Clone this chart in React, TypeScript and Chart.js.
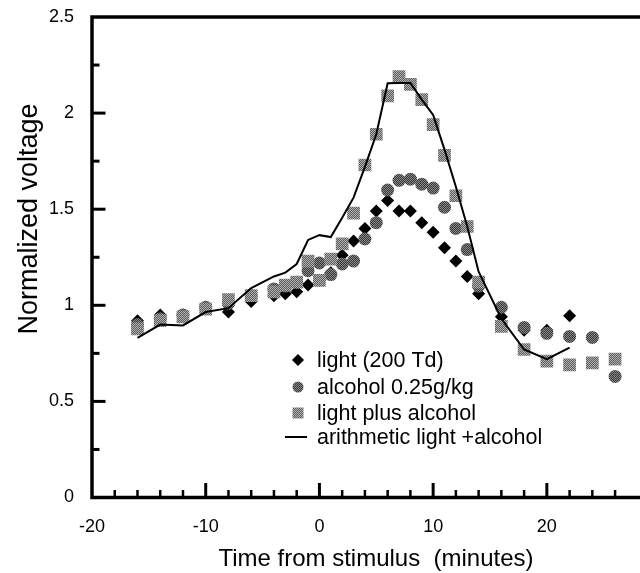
import React, { useEffect, useRef } from 'react';
import { Chart, registerables } from 'chart.js';

Chart.register(...registerables);

// ---- data ----
const lightTimes = [-16, -14, -12, -10, -8, -6, -4, -3, -2, -1, 0, 1, 2, 3, 4, 5, 6, 7, 8, 9, 10, 11, 12, 13, 14, 16, 18, 20, 22];
const lightValues = [0.92, 0.95, 0.95, 0.99, 0.965, 1.02, 1.05, 1.06, 1.07, 1.105, 1.13, 1.17, 1.26, 1.335, 1.40, 1.49, 1.545, 1.49, 1.49, 1.43, 1.38, 1.30, 1.23, 1.15, 1.06, 0.94, 0.87, 0.87, 0.945];

const alcoholTimes = [-16, -14, -12, -10, -8, -6, -4, -3, -2, -1, 0, 1, 2, 3, 4, 5, 6, 7, 8, 9, 10, 11, 12, 13, 14, 16, 18, 20, 22, 24, 26];
const alcoholValues = [0.90, 0.93, 0.95, 0.99, 1.01, 1.05, 1.085, 1.10, 1.12, 1.18, 1.22, 1.16, 1.215, 1.23, 1.345, 1.43, 1.60, 1.65, 1.656, 1.63, 1.61, 1.51, 1.40, 1.29, 1.10, 0.99, 0.885, 0.854, 0.838, 0.833, 0.63];

const comboTimes = [-16, -14, -12, -10, -8, -6, -4, -3, -2, -1, 0, 1, 2, 3, 4, 5, 6, 7, 8, 9, 10, 11, 12, 13, 14, 16, 18, 20, 22, 24, 26];
const comboValues = [0.877, 0.92, 0.94, 0.98, 1.03, 1.05, 1.07, 1.105, 1.12, 1.23, 1.13, 1.24, 1.32, 1.48, 1.73, 1.89, 2.09, 2.19, 2.15, 2.07, 1.94, 1.78, 1.57, 1.41, 1.12, 0.89, 0.77, 0.71, 0.69, 0.70, 0.72];

const sumTimes = [-16, -14, -12, -10, -8, -6, -4, -3, -2, -1, 0, 1, 2, 3, 4, 5, 6, 7, 8, 9, 10, 11, 12, 13, 14, 16, 18, 20, 22];
const sumValues = [0.83, 0.90, 0.895, 0.965, 0.985, 1.09, 1.15, 1.17, 1.215, 1.34, 1.365, 1.355, 1.455, 1.56, 1.72, 1.89, 2.155, 2.157, 2.157, 2.07, 1.99, 1.81, 1.617, 1.41, 1.175, 0.93, 0.77, 0.72, 0.78];

const xTickLabels = [-20, -10, 0, 10, 20];
const yTickLabels = [0, 0.5, 1, 1.5, 2, 2.5];
const xTickMarks = [-18, -16, -14, -12, -10, -8, -6, -4, -2, 0, 2, 4, 6, 8, 10, 12, 14, 16, 18, 20, 22, 24, 26];
const xMajorMarks = [-10, 0, 10, 20];
const yTickMarks = [0.25, 0.5, 0.75, 1, 1.25, 1.5, 1.75, 2, 2.25];
const yMajorMarks = [0.5, 1, 1.5, 2];

const seriesNames = ['light (200 Td)', 'alcohol 0.25g/kg', 'light plus alcohol', 'arithmetic light +alcohol'];
const xTitle = 'Time from stimulus  (minutes)';
const yTitle = 'Normalized voltage';

const FONT = "'Liberation Sans', Arial, Helvetica, sans-serif";

function makePattern(a: string, b: string): CanvasPattern | string {
  const c = document.createElement('canvas');
  c.width = 2;
  c.height = 2;
  const g = c.getContext('2d');
  if (!g) return a;
  g.fillStyle = a;
  g.fillRect(0, 0, 2, 2);
  g.fillStyle = b;
  g.fillRect(0, 0, 1, 1);
  g.fillRect(1, 1, 1, 1);
  const ctx = document.createElement('canvas').getContext('2d');
  const p = ctx ? ctx.createPattern(c, 'repeat') : null;
  return p || a;
}

function zip(t: number[], v: number[]) {
  return t.map((x, i) => ({ x, y: v[i] }));
}

export default function App() {
  const ref = useRef<HTMLCanvasElement | null>(null);

  useEffect(() => {
    const canvas = ref.current;
    if (!canvas) return;
    const squareFill = makePattern('#5c5c5c', '#b2b2b2');
    const circleFill = makePattern('#383838', '#888888');

    const framePlugin = {
      id: 'frame',
      beforeDatasetsDraw(chart: any) {
        const { ctx, chartArea, scales } = chart;
        const { left, top, bottom } = chartArea;
        const xs = scales.x;
        const ys = scales.y;
        ctx.save();
        ctx.strokeStyle = '#000';
        ctx.lineCap = 'butt';
        ctx.lineWidth = 3.5;
        ctx.beginPath();
        ctx.moveTo(chart.width + 5, top);
        ctx.lineTo(left, top);
        ctx.lineTo(left, bottom);
        ctx.lineTo(chart.width + 5, bottom);
        ctx.stroke();
        xTickMarks.forEach((v) => {
          const px = xs.getPixelForValue(v);
          const major = xMajorMarks.includes(v);
          ctx.lineWidth = major ? 3 : 2.5;
          ctx.beginPath();
          ctx.moveTo(px, bottom);
          ctx.lineTo(px, bottom - (major ? 14.5 : 7.5));
          ctx.stroke();
        });
        yTickMarks.forEach((v) => {
          const py = ys.getPixelForValue(v);
          const major = yMajorMarks.includes(v);
          ctx.lineWidth = 3;
          ctx.beginPath();
          ctx.moveTo(left, py);
          ctx.lineTo(left + (major ? 13.5 : 7.5), py);
          ctx.stroke();
        });
        ctx.restore();
      },
      afterDraw(chart: any) {
        const { ctx } = chart;
        ctx.save();
        // axis titles
        ctx.fillStyle = '#000';
        ctx.font = `24px ${FONT}`;
        ctx.textAlign = 'center';
        ctx.textBaseline = 'alphabetic';
        ctx.fillText(xTitle, 376, 566);
        ctx.save();
        ctx.translate(30, 219);
        ctx.rotate(-Math.PI / 2);
        ctx.font = `27px ${FONT}`;
        ctx.textBaseline = 'middle';
        ctx.fillText(yTitle, 0, 0);
        ctx.restore();

        // legend
        const mx = 298;
        const tx = 317;
        const rows = [360, 387, 413, 437];
        ctx.fillStyle = '#000';
        ctx.beginPath();
        ctx.moveTo(mx, rows[0] - 6);
        ctx.lineTo(mx + 6, rows[0]);
        ctx.lineTo(mx, rows[0] + 6);
        ctx.lineTo(mx - 6, rows[0]);
        ctx.closePath();
        ctx.fill();
        ctx.fillStyle = circleFill as any;
        ctx.beginPath();
        ctx.arc(mx, rows[1], 5.5, 0, Math.PI * 2);
        ctx.fill();
        ctx.fillStyle = squareFill as any;
        ctx.fillRect(mx - 5.5, rows[2] - 5.5, 11, 11);
        ctx.strokeStyle = '#000';
        ctx.lineWidth = 2;
        ctx.beginPath();
        ctx.moveTo(285, rows[3]);
        ctx.lineTo(307, rows[3]);
        ctx.stroke();
        ctx.fillStyle = '#000';
        ctx.font = `21.5px ${FONT}`;
        ctx.textBaseline = 'middle';
        ctx.textAlign = 'left';
        seriesNames.forEach((n, i) => ctx.fillText(n, tx, rows[i] + 1));
        ctx.restore();
      },
    };

    const chart = new Chart(canvas, {
      type: 'scatter',
      data: {
        datasets: [
          {
            label: seriesNames[0],
            data: zip(lightTimes, lightValues),
            pointStyle: 'rectRot',
            pointRadius: 6.5,
            pointHoverRadius: 6.5,
            backgroundColor: '#000',
            borderColor: '#000',
            borderWidth: 0,
            showLine: false,
            order: 4,
          },
          {
            label: seriesNames[1],
            data: zip(alcoholTimes, alcoholValues),
            pointStyle: 'circle',
            pointRadius: 6.5,
            pointHoverRadius: 6.5,
            backgroundColor: circleFill as any,
            borderColor: 'rgba(0,0,0,0)',
            borderWidth: 0,
            showLine: false,
            order: 3,
          },
          {
            label: seriesNames[2],
            data: zip(comboTimes, comboValues),
            pointStyle: 'rect',
            pointRadius: 9,
            pointHoverRadius: 9,
            backgroundColor: squareFill as any,
            borderColor: 'rgba(0,0,0,0)',
            borderWidth: 0,
            showLine: false,
            order: 2,
          },
          {
            label: seriesNames[3],
            data: zip(sumTimes, sumValues),
            showLine: true,
            pointRadius: 0,
            pointHoverRadius: 0,
            borderColor: '#000',
            borderWidth: 2,
            backgroundColor: '#000',
            tension: 0,
            fill: false,
            order: 1,
          },
        ],
      },
      options: {
        responsive: false,
        animation: false,
        events: [],
        layout: { padding: { top: 17, left: 0, right: 0, bottom: 0 } },
        plugins: {
          legend: { display: false },
          tooltip: { enabled: false },
          title: { display: false },
        },
        scales: {
          x: {
            type: 'linear',
            min: -20,
            max: 27.4,
            grid: { display: false, drawTicks: false, tickLength: 0 },
            border: { display: false },
            afterBuildTicks: (s: any) => {
              s.ticks = xTickLabels.map((v) => ({ value: v }));
            },
            afterFit: (s: any) => {
              s.height = 75.5;
              s.paddingLeft = 0;
              s.paddingRight = 0;
            },
            ticks: {
              color: '#000',
              font: { family: FONT, size: 18 },
              padding: 19,
              maxRotation: 0,
              autoSkip: false,
              callback: (v: any) => String(v),
            },
            title: { display: false },
          },
          y: {
            type: 'linear',
            min: 0,
            max: 2.5,
            grid: { display: false, drawTicks: false, tickLength: 0 },
            border: { display: false },
            afterBuildTicks: (s: any) => {
              s.ticks = yTickLabels.map((v) => ({ value: v }));
            },
            afterFit: (s: any) => {
              s.width = 92;
              s.paddingTop = 0;
              s.paddingBottom = 0;
            },
            ticks: {
              color: '#000',
              font: { family: FONT, size: 18 },
              padding: 18,
              autoSkip: false,
              callback: (v: any) => String(v),
            },
            title: { display: false },
          },
        },
      },
      plugins: [framePlugin],
    } as any);

    return () => {
      chart.destroy();
    };
  }, []);

  return (
    <div style={{ position: 'fixed', left: 0, top: 0, width: 640, height: 573, background: '#fff' }}>
      <canvas ref={ref} width={640} height={573} style={{ display: 'block', width: 640, height: 573 }} />
    </div>
  );
}
